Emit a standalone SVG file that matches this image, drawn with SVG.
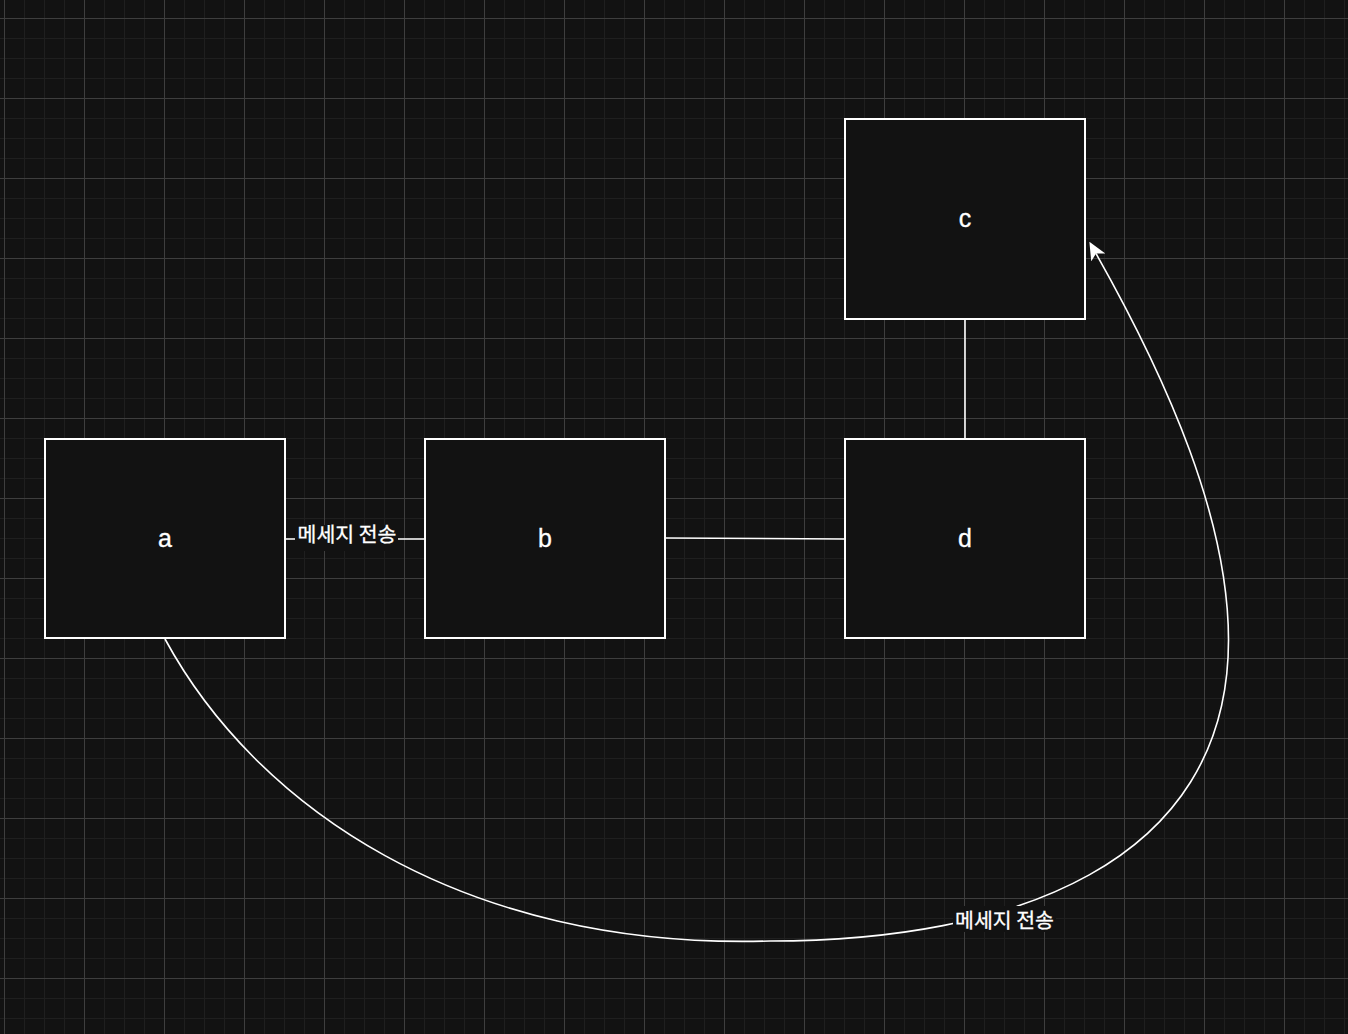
<svg xmlns="http://www.w3.org/2000/svg" width="1348" height="1034" viewBox="0 0 1348 1034">
  <style>
    .node rect { fill: #121212; stroke: #ffffff; stroke-width: 2; }
    .node text { fill: #ffffff; stroke: #ffffff; stroke-width: 0.3; font-family: "Liberation Sans", Arial, Helvetica, sans-serif; font-size: 25px; text-anchor: middle; }
    .edge { fill: none; stroke: #ffffff; stroke-width: 1.6; }
    .label-bg { fill: #121212; }
    .label { fill: #ffffff; stroke: #ffffff; stroke-width: 0.3; font-family: "Noto Sans CJK KR", "Liberation Sans", sans-serif; font-size: 20.5px; text-anchor: middle; }
  </style>
  <defs>
    <!-- 20px minor / 80px major grid -->
    <pattern id="grid" patternUnits="userSpaceOnUse" x="4" y="18" width="80" height="80">
      <rect width="80" height="80" fill="#121212"/>
      <path d="M20.5 0V80M40.5 0V80M60.5 0V80M0 20.5H80M0 40.5H80M0 60.5H80" stroke="#1f1f1f" stroke-width="1"/>
      <path d="M0.5 0V80M0 0.5H80" stroke="#3e3e3e" stroke-width="1"/>
    </pattern>
    <marker id="arrow" markerUnits="userSpaceOnUse" markerWidth="18" markerHeight="17" viewBox="0 0 18 17" refX="4.5" refY="8.5" orient="auto">
      <path d="M18 8.5 L0 0.5 L4.5 8.5 L0 16.5 Z" fill="#ffffff"/>
    </marker>
  </defs>

  <rect width="1348" height="1034" fill="url(#grid)"/>

  <g id="connectors">
    <g id="edge-a-b">
      <line class="edge" x1="285" y1="539" x2="425" y2="539"/>
      <rect class="label-bg" x="295" y="525" width="103" height="26"/>
      <text class="label" x="347" y="542">메세지 전송</text>
    </g>
    <g id="edge-b-d">
      <line class="edge" x1="665" y1="538" x2="845" y2="539"/>
    </g>
    <g id="edge-d-c">
      <line class="edge" x1="965" y1="439" x2="965" y2="319"/>
    </g>
    <g id="edge-a-c">
      <path class="edge" marker-end="url(#arrow)" d="M165 639 C255 805 460 950 770 941 C1010 941 1228.5 865 1228.5 640 C1228.5 520 1169 383 1096 253.5"/>
      <rect class="label-bg" x="953" y="906" width="103" height="26"/>
      <text class="label" x="1004.5" y="928">메세지 전송</text>
    </g>
  </g>

  <g id="node-a" class="node">
    <rect x="45" y="439" width="240" height="199"/>
    <text x="165" y="547">a</text>
  </g>
  <g id="node-b" class="node">
    <rect x="425" y="439" width="240" height="199"/>
    <text x="545" y="547">b</text>
  </g>
  <g id="node-d" class="node">
    <rect x="845" y="439" width="240" height="199"/>
    <text x="965" y="547">d</text>
  </g>
  <g id="node-c" class="node">
    <rect x="845" y="119" width="240" height="200"/>
    <text x="965" y="227">c</text>
  </g>
</svg>
